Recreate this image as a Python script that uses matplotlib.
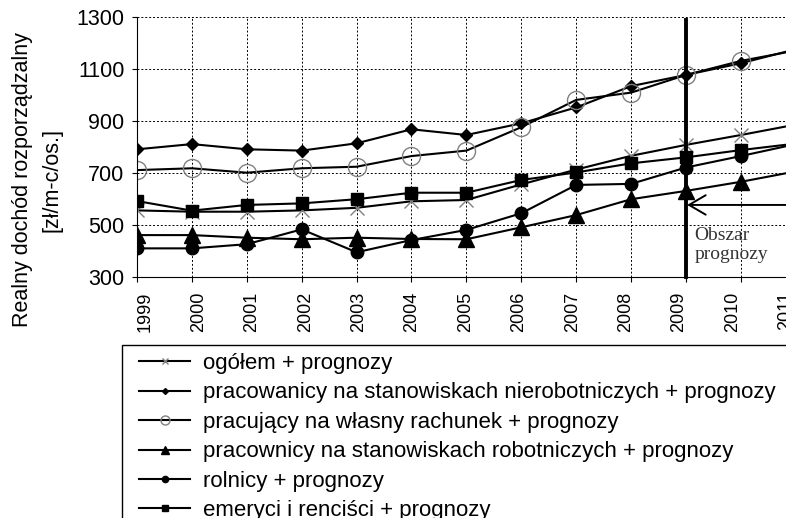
import numpy as np
import matplotlib.pyplot as plt
import matplotlib.transforms as mtransforms
from matplotlib.patches import Rectangle

plt.rcParams['font.family'] = ['Liberation Sans', 'DejaVu Sans']

# data
years = [1999, 2000, 2001, 2002, 2003, 2004, 2005, 2006, 2007, 2008, 2009, 2010, 2011]
ogolem = [555, 550, 550, 555, 565, 590, 595, 655, 712, 765, 807, 845, 885]
nierobotnicze = [790, 810, 790, 785, 813, 867, 845, 890, 951, 1033, 1076, 1121, 1175]
wlasny = [710, 717, 700, 717, 723, 764, 785, 875, 980, 1008, 1076, 1130, 1170]
robotnicze = [460, 460, 450, 444, 450, 445, 444, 490, 537, 598, 630, 665, 705]
rolnicy = [409, 409, 425, 482, 394, 441, 480, 544, 653, 657, 720, 764, 810]
emeryci = [591, 554, 576, 582, 598, 623, 623, 672, 701, 736, 759, 787, 812]

labels = ['ogółem + prognozy',
          'pracowanicy na stanowiskach nierobotniczych + prognozy',
          'pracujący na własny rachunek + prognozy',
          'pracownicy na stanowiskach robotniczych + prognozy',
          'rolnicy + prognozy',
          'emeryci i renciści + prognozy']

fig = plt.figure(figsize=(7.86, 5.18), dpi=100)
ax = fig.add_axes([137/786, 241.3/518, 12.5*54.9/786, 260/518])

lw = 1.5
ax.plot(years, ogolem, color='black', lw=lw, marker='x', ms=10, mec='#808080', mew=1.0, label=labels[0])
ax.plot(years, nierobotnicze, color='black', lw=lw, marker='D', ms=6, mfc='black', mec='black', label=labels[1])
ax.plot(years, wlasny, color='black', lw=lw, marker='o', ms=13, mfc='none', mec='#808080', mew=1.0, label=labels[2])
ax.plot(years, robotnicze, color='black', lw=lw, marker='^', ms=11, mfc='black', mec='black', label=labels[3])
ax.plot(years, rolnicy, color='black', lw=lw, marker='o', ms=9, mfc='black', mec='black', label=labels[4])
ax.plot(years, emeryci, color='black', lw=lw, marker='s', ms=9, mfc='black', mec='black', label=labels[5])

# granica prognozy
ax.plot([2009, 2009], [300, 1288], color='black', lw=2.8, zorder=5, clip_on=False)
ax.annotate('', xy=(2009.02, 576), xytext=(2011.5, 576),
            arrowprops=dict(arrowstyle='<->, head_length=0.6, head_width=0.35',
                            color='black', lw=1.4, mutation_scale=20, shrinkA=0, shrinkB=0))
ax.text(2009.15, 491, 'Obszar\nprognozy', family='Liberation Serif', fontsize=14,
        color='#333333', va='top', ha='left', linespacing=1.15)

ax.set_xlim(1999, 2011.5)
ax.set_ylim(300, 1300)
ax.set_xticks(years)
ax.set_xticklabels([str(y) for y in years], rotation=90, fontsize=13)
ax.set_yticks(range(300, 1301, 200))
ax.tick_params(axis='y', labelsize=15.5, length=3.6, pad=5.5, direction='out')
ax.tick_params(axis='x', length=3.6, pad=7, direction='out')
# rotated year labels drift slightly relative to the ticks (as in the original)
n = len(years)
for i, lab in enumerate(ax.get_xticklabels()):
    dx = (8 - 16.5 * i / (n - 2)) / 100.0
    lab.set_transform(lab.get_transform() + mtransforms.ScaledTranslation(dx, 0, fig.dpi_scale_trans))
ax.grid(True, color='black', ls=(0, (2, 2)), lw=0.7)
ax.spines['top'].set_visible(False)
ax.spines['right'].set_visible(False)

fig.text(37.5/786, 1 - 180/518, 'Realny dochód rozporządzalny\n[zł/m-c/os.]', rotation=90,
         ha='center', va='center', fontsize=15.5, linespacing=1.55, multialignment='center')

# legend frame, running past the right and bottom edge
fig.patches.append(Rectangle((122/786, -0.05), 0.9, (1 - 345/518) + 0.05, transform=fig.transFigure,
                             fill=False, edgecolor='black', lw=1.0))
leg = fig.legend(loc='upper left', bbox_to_anchor=(139/786, 1 - 353/518), fontsize=16,
                 frameon=False, handlelength=2.3, handletextpad=0.6,
                 labelspacing=0.38, borderpad=0.0, borderaxespad=0.0, markerscale=0.5)

fig.savefig('out.png', dpi=100)
